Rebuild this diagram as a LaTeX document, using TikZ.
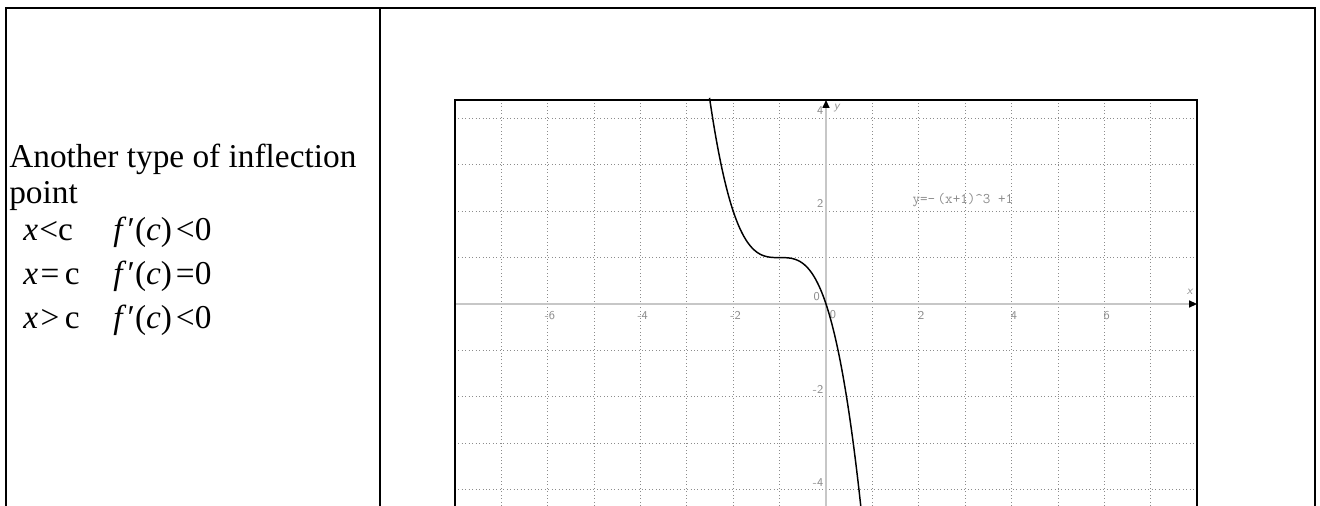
\documentclass[tikz,border=0pt]{standalone}
\usepackage{fontspec}
\setmainfont{Liberation Serif}
\usetikzlibrary{arrows.meta}

\begin{document}
\begin{tikzpicture}[x=0.75pt, y=-0.75pt,
		cell/.style={line width=1.5pt},
		body/.style={anchor=base west, inner sep=0pt, font=\fontsize{25}{30}\selectfont},
		tick/.style={font=\sffamily\fontsize{9}{10}\selectfont, text=black!45, inner sep=0.5pt},
		gridline/.style={black!45, dotted, line width=0.6pt},
		axis/.style={black!22, line width=2.2pt},
		tip/.style={-{Triangle[color=black, length=6pt, width=5pt]}},
		curve/.style={black, line width=1.1pt}]

		% Page size and table borders
		\useasboundingbox (0,0) rectangle (1320,506);
		\draw[cell] (6,507) -- (6,8) -- (1315,8) -- (1315,507);
		\draw[cell] (380,8) -- (380,507);

		% Column positions of the left cell
		\def\xT{9}
		\def\xL{23}
		\def\xR{113}

		% Baselines of the text lines
		\def\yone{168}
		\def\ytwo{204}
		\def\ythree{240}
		\def\yfour{284}
		\def\yfive{328}

		% --- Left cell text ---
		\node[body] (title) at (\xT, \yone) {Another type of inflection};
		\node[body] (title2) at (\xT, \ytwo) {point};

		\node[body] (lhs1) at (\xL, \ythree) {\textit{x}\hspace{1pt}<c};
		\node[body] (rhs1) at (\xR, \ythree) {\textit{f}\hspace{1pt}′(\textit{c})\hspace{3pt}<0};
		\node[body] (lhs2) at (\xL, \yfour) {\textit{x}\hspace{2pt}=\hspace{4pt}c};
		\node[body] (rhs2) at (\xR, \yfour) {\textit{f}\hspace{1pt}′(\textit{c})\hspace{3pt}=0};
		\node[body] (lhs3) at (\xL, \yfive) {\textit{x}\hspace{2pt}>\hspace{4pt}c};
		\node[body] (rhs3) at (\xR, \yfive) {\textit{f}\hspace{1pt}′(\textit{c})\hspace{3pt}<0};

		% --- Graph of y = -(x+1)^3 + 1 ---
		\begin{scope}[shift={(826,304)}, x=34.8pt, y=34.8pt]
			\def\ytop{4.4}
			\def\ybot{-4.5}

			% grid
			\foreach \i in {-7,...,7}
				\draw[gridline] (\i, \ybot) -- (\i, \ytop);
			\foreach \j in {-4,...,4}
				\draw[gridline] (-8, \j) -- (8, \j);

			% axes
			\coordinate (xs) at (-8, 0);
			\coordinate (xe) at (8, 0);
			\coordinate (ys) at (0, \ybot);
			\coordinate (ye) at (0, \ytop);
			\draw[axis, tip] (xs) -- (xe);
			\draw[axis, tip] (ys) -- (ye);

			% frame
			\draw[line width=1.6pt] (-8, \ybot) rectangle (8, \ytop);

			% tick labels
			\foreach \v in {-6,-4,-2,2,4,6}
				\node[tick] (xl\v) at (\v+0.05, -0.25) {\v};
			\foreach \v in {-4,-2,2,4}
				\node[tick, anchor=east] (yl\v) at (-0.04, \v+0.16) {\v};
			\node[tick] (yl0) at (-0.2, 0.17) {0};
			\node[tick] (xl0) at (0.15, -0.22) {0};
			\node[tick] (xname) at (7.85, 0.26) {\textit{x}};
			\node[tick] (yname) at (0.24, 4.22) {\textit{y}};

			% curve and its label
			\node[tick, font=\ttfamily\fontsize{11}{12}\selectfont] (eq) at (2.95, 2.24) {y=-\,(x+1)\^{}3 +1};
			\draw[curve] plot[domain=-2.51:0.77, samples=120] (\x, {-(\x+1)*(\x+1)*(\x+1)+1});
		\end{scope}

	\end{tikzpicture}
\end{document}
